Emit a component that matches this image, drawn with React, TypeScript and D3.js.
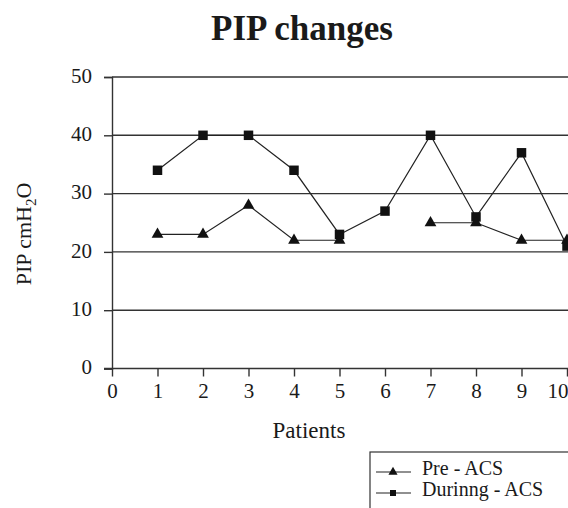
import React, { useEffect, useRef } from 'react';
import * as d3 from 'd3';

const patients = [1, 2, 3, 4, 5, 6, 7, 8, 9, 10];
const preACS: (number | null)[] = [23, 23, 28, 22, 22, null, 25, 25, 22, 22];
const duringACS: (number | null)[] = [34, 40, 40, 34, 23, 27, 40, 26, 37, 21];
const yTicks = [0, 10, 20, 30, 40, 50];
const xTicks = [0, 1, 2, 3, 4, 5, 6, 7, 8, 9, 10];

const W = 568;
const H = 508;
const FONT = 'Liberation Serif, Times New Roman, serif';
const INK = '#1a1a1a';

const App: React.FC = () => {
  const ref = useRef<SVGSVGElement>(null);

  useEffect(() => {
    if (!ref.current) return;
    const svg = d3.select(ref.current);
    svg.selectAll('*').remove();

    const x = d3.scaleLinear().domain([0, 10]).range([112, 567]);
    const y = d3.scaleLinear().domain([0, 50]).range([368.5, 77]);

    svg.append('rect').attr('width', W).attr('height', H).attr('fill', '#fff');

    // Title
    svg.append('text')
      .attr('x', 302).attr('y', 40)
      .attr('text-anchor', 'middle')
      .attr('font-family', FONT).attr('font-weight', 'bold').attr('font-size', 35)
      .attr('fill', INK)
      .text('PIP changes');

    // Gridlines
    svg.append('g').selectAll('line')
      .data(yTicks.filter(d => d > 0))
      .enter().append('line')
      .attr('x1', x(0)).attr('x2', W)
      .attr('y1', d => y(d)).attr('y2', d => y(d))
      .attr('stroke', '#333').attr('stroke-width', 1.4);

    // Y axis
    const yAxis = svg.append('g').attr('transform', `translate(${x(0)},0)`)
      .call(d3.axisLeft(y).tickValues(yTicks).tickSize(8).tickPadding(12).tickFormat(d3.format('d')));
    yAxis.select('.domain').attr('stroke', '#333').attr('stroke-width', 1.4);
    yAxis.selectAll('.tick line').attr('stroke', '#333').attr('stroke-width', 1.4);
    yAxis.selectAll('.tick text')
      .attr('font-family', FONT).attr('font-size', 21).attr('fill', INK).attr('dy', '0.25em');

    // X axis
    const xAxis = svg.append('g').attr('transform', `translate(0,${y(0)})`)
      .call(d3.axisBottom(x).tickValues(xTicks).tickSize(8).tickPadding(7).tickFormat(d3.format('d')));
    xAxis.select('.domain').attr('d', `M${x(0) - 8},0H${W}`).attr('stroke', '#333').attr('stroke-width', 1.4);
    xAxis.selectAll('.tick line').attr('stroke', '#333').attr('stroke-width', 1.4);
    xAxis.selectAll<SVGTextElement, number>('.tick text')
      .attr('font-family', FONT).attr('font-size', 21).attr('fill', INK)
      .attr('text-anchor', d => (d === 10 ? 'end' : 'middle'))
      .attr('x', d => (d === 10 ? 1 : 0));

    // Axis titles
    svg.append('text')
      .attr('x', 309).attr('y', 438)
      .attr('text-anchor', 'middle')
      .attr('font-family', FONT).attr('font-size', 23).attr('fill', INK)
      .text('Patients');

    const yl = svg.append('text')
      .attr('transform', `translate(31,234) rotate(-90)`)
      .attr('text-anchor', 'middle')
      .attr('font-family', FONT).attr('font-size', 22).attr('fill', INK);
    yl.append('tspan').text('PIP cmH');
    yl.append('tspan').attr('font-size', 15).attr('dy', 5).text('2');
    yl.append('tspan').attr('dy', -5).text('O');

    const line = d3.line<number | null>()
      .defined(d => d !== null)
      .x((_, i) => x(patients[i]))
      .y(d => y(d as number));

    const series = [
      { values: duringACS, symbol: d3.symbolSquare, size: 90 },
      { values: preACS, symbol: d3.symbolTriangle, size: 60 },
    ];

    series.forEach(s => {
      svg.append('path')
        .attr('d', line(s.values))
        .attr('fill', 'none')
        .attr('stroke', '#222').attr('stroke-width', 1.2);
      svg.append('g').selectAll('path')
        .data(s.values.map((v, i) => ({ v, p: patients[i] })).filter(d => d.v !== null))
        .enter().append('path')
        .attr('transform', d => `translate(${x(d.p)},${y(d.v as number)})`)
        .attr('d', d3.symbol(s.symbol, s.size)())
        .attr('fill', '#111');
    });

    // Legend
    const lg = svg.append('g');
    lg.append('rect')
      .attr('x', 370).attr('y', 452).attr('width', 220).attr('height', 80)
      .attr('fill', '#fff').attr('stroke', '#333').attr('stroke-width', 1.2);
    const items = [
      { label: 'Pre - ACS', symbol: d3.symbolTriangle, size: 36, yy: 472 },
      { label: 'Durinng - ACS', symbol: d3.symbolSquare, size: 36, yy: 493 },
    ];
    items.forEach(it => {
      lg.append('line')
        .attr('x1', 376).attr('x2', 411).attr('y1', it.yy).attr('y2', it.yy)
        .attr('stroke', '#222').attr('stroke-width', 1.2);
      lg.append('path')
        .attr('transform', `translate(393,${it.yy})`)
        .attr('d', d3.symbol(it.symbol, it.size)())
        .attr('fill', '#111');
      lg.append('text')
        .attr('x', 422).attr('y', it.yy + 3)
        .attr('font-family', FONT).attr('font-size', 20).attr('fill', INK)
        .text(it.label);
    });
  }, []);

  return (
    <svg
      ref={ref}
      width={W}
      height={H}
      style={{ position: 'absolute', left: 0, top: 0, display: 'block' }}
    />
  );
};

export default App;
